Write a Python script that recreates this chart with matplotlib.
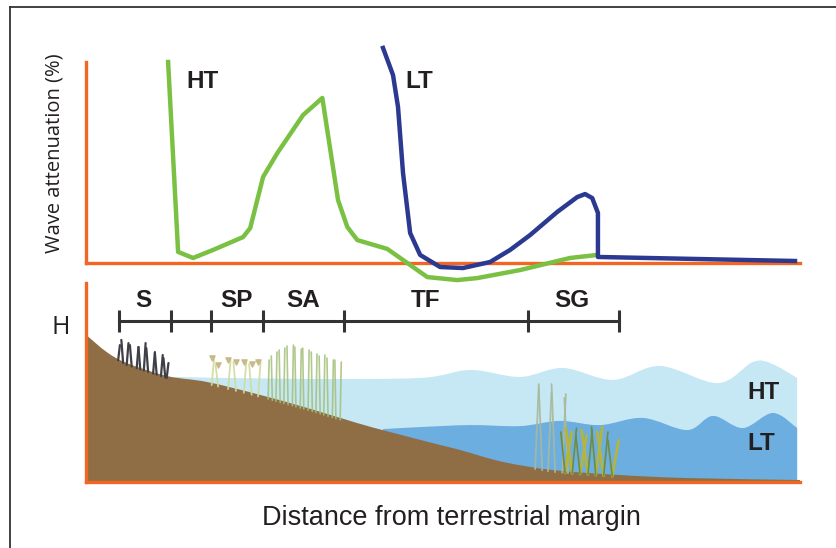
import numpy as np
import matplotlib
matplotlib.use("Agg")
import matplotlib.pyplot as plt
from matplotlib.lines import Line2D
from matplotlib.path import Path
from matplotlib.patches import PathPatch

# wave attenuation curves (distance 0-100, attenuation 0-100 %)
ht_dist = [11.5, 12.9, 15.0, 17.8, 22.0, 23.0, 24.8, 26.8, 30.4, 33.1, 35.3, 36.6,
           38.0, 42.2, 45.0, 47.8, 52.0, 54.8, 60.8, 67.8, 71.6]
ht_att = [100, 5.5, 2.5, 6.5, 12.9, 17.4, 42.8, 54.7, 73.6, 82.1, 31.3, 17.9,
          11.4, 7.0, 0.0, -7.0, -8.5, -7.5, -3.5, 2.5, 4.0]
lt_dist = [41.6, 43.0, 43.7, 44.4, 45.4, 46.8, 49.6, 52.8, 56.6, 59.4, 62.2, 66.0,
           68.8, 69.9, 70.9, 71.7, 71.7, 99.3]
lt_att = [107, 93.5, 77.6, 44.8, 14.9, 4.0, -2.0, -2.5, 0.5, 6.5, 13.9, 25.4,
          32.8, 34.3, 32.3, 24.9, 3.0, 1.0]

# shore profile (height 0-100)
ground_d = [0, 2.9, 5.7, 11.3, 16.9, 23.4, 31.0, 38.0, 42.6, 49.6, 52.4, 58.4,
            65.4, 74.8, 84.2, 100]
ground_h = [74, 65.3, 59.8, 53.3, 50.3, 44.7, 37.2, 29.6, 25.1, 18.6, 16.1, 10.1,
            6.0, 3.5, 2.0, 1.0]
# water surface: crests and troughs
high_d = [12.5, 30.0, 46.8, 53.8, 60.8, 66.8, 73.8, 80.4, 88.5, 93.4, 96.0, 99.6]
high_h = [52.8, 51.8, 52.3, 56.3, 52.8, 57.3, 51.3, 58.3, 49.7, 60.3, 59.5, 52.3]
low_d = [41.6, 46.8, 53.8, 60.8, 66.4, 72.0, 78.0, 84.2, 87.8, 92.0, 96.2, 99.6]
low_h = [26.6, 27.6, 28.6, 28.1, 30.7, 28.6, 32.2, 26.1, 33.2, 27.1, 34.7, 27.1]

# vegetation zones
zone_ticks = [4.6, 11.9, 17.5, 24.8, 36.1, 61.9, 74.6]
zone_names = ["S", "SP", "SA", "TF", "SG"]
zone_label_d = [8.0, 21.1, 30.4, 47.5, 68.1]

s_d = [4.5, 5.2, 5.7, 6.4, 7.1, 7.6, 8.1, 8.7, 9.4, 9.9, 10.5, 11.1, 11.3]
s_top = [68.8, 71.4, 69.8, 68.8, 67.8, 67.8, 69.8, 67.3, 65.3, 64.8, 63.8, 62.3, 59.8]
sp_d = [17.6, 18.5, 19.9, 21.0, 22.1, 23.2, 24.1]
sp_top = [62.3, 58.8, 61.3, 60.3, 60.3, 59.3, 60.3]
sa_d = [25.5, 26.1, 26.6, 27.2, 27.7, 28.3, 28.9, 29.4, 30.0, 30.5, 31.1, 31.7,
        32.2, 32.8, 33.3, 33.9, 34.5, 35.0, 35.6]
sa_top = [61.3, 63.3, 65.3, 66.3, 67.3, 68.3, 68.8, 67.8, 66.8, 67.3, 66.3, 65.3,
          64.3, 63.3, 63.8, 62.3, 61.3, 61.3, 60.3]
sg_d = [62.9, 63.9, 64.7, 65.7, 66.7, 67.5]
sg_top = [47.2, 49.2, 45.2, 49.2, 44.2, 42.2]
kelp_d = [67.1, 68.1, 69.2, 70.3, 71.4, 72.5, 73.7]
kelp_top = [25.1, 27.1, 23.6, 26.1, 27.6, 25.1, 21.1]

ink = "#231f20"
orange = "#f26522"
W, H = 836, 548


def px_box(l, t, r, b):
    return [l / W, 1 - b / H, (r - l) / W, (b - t) / H]


def smooth_fill(ax, d, h, color, z):
    # cubic curves passing through every read point (catmull-rom style)
    p = np.column_stack([d, h]).astype(float)
    n = len(p)
    verts = [(d[0], 0), tuple(p[0])]
    codes = [Path.MOVETO, Path.LINETO]
    for i in range(n - 1):
        a = p[max(i - 1, 0)]
        b = p[min(i + 2, n - 1)]
        c1 = p[i] + (p[i + 1] - a) / 6
        c2 = p[i + 1] - (b - p[i]) / 6
        verts += [tuple(c1), tuple(c2), tuple(p[i + 1])]
        codes += [Path.CURVE4] * 3
    verts += [(d[-1], 0), (d[0], 0)]
    codes += [Path.LINETO, Path.CLOSEPOLY]
    ax.add_patch(PathPatch(Path(verts, codes), facecolor=color, lw=0, zorder=z))


fig = plt.figure(figsize=(8.36, 5.48), dpi=100)
ax_top = fig.add_axes(px_box(86, 62, 800, 263))
ax_bot = fig.add_axes(px_box(86, 283, 800, 482))

for ax in (ax_top, ax_bot):
    ax.set_xlim(0, 100)
    ax.set_ylim(0, 100)
    ax.set_xticks([])
    ax.set_yticks([])
    ax.set_facecolor("none")
    for side in ("top", "right"):
        ax.spines[side].set_visible(False)
    for side in ("left", "bottom"):
        ax.spines[side].set_color(orange)
        ax.spines[side].set_linewidth(2.4)
        ax.spines[side].set_zorder(10)

# top panel
ax_top.plot(ht_dist, ht_att, color="#7ac143", lw=3.2, clip_on=False,
            solid_joinstyle="round", zorder=11)
ax_top.plot(lt_dist, lt_att, color="#2b3990", lw=3.2, clip_on=False,
            solid_joinstyle="round", zorder=12)
ax_top.text(14.0, 90.5, "HT", ha="left", va="center", fontsize=17.5,
            fontweight="bold", family="Liberation Sans", color=ink)
ax_top.text(44.8, 90.5, "LT", ha="left", va="center", fontsize=17.5,
            fontweight="bold", family="Liberation Sans", color=ink)

# bottom panel: water, shore and plants
smooth_fill(ax_bot, high_d, high_h, "#c6e7f4", 1)
smooth_fill(ax_bot, low_d, low_h, "#6caee0", 2)
smooth_fill(ax_bot, ground_d, ground_h, "#8f6e46", 3)


def plants(d, top, color, lw, lean, alpha=1.0):
    d = np.array(d)
    base = np.interp(d, ground_d, ground_h) - 1.0
    for i in range(len(d)):
        ax_bot.plot([d[i], d[i] + lean * (-1) ** i], [base[i], top[i]],
                    color=color, lw=lw, alpha=alpha, solid_capstyle="round",
                    zorder=4)


plants(s_d, s_top, "#3f3f48", 1.6, 0.25)
plants(sp_d, sp_top, "#cfdc9c", 1.3, 0.35, 0.9)
ax_bot.scatter(sp_d, sp_top, s=14, marker="v", color="#c9b98a", zorder=5)
plants(sa_d, sa_top, "#a4c07a", 1.2, 0.15, 0.85)
plants(sg_d, sg_top, "#a9b89c", 1.3, 0.5, 0.9)
plants(kelp_d, kelp_top, "#b5b43f", 2.0, 0.9)
plants(kelp_d, kelp_top, "#6f8d3c", 1.2, -0.6)

ax_bot.plot([zone_ticks[0], zone_ticks[-1]], [80.9, 80.9], color="#333333",
            lw=2.2, zorder=6)
ax_bot.vlines(zone_ticks, 75.4, 86.4, color="#333333", lw=2.2, zorder=6)
for name, d in zip(zone_names, zone_label_d):
    ax_bot.text(d, 91.0, name, ha="center", va="center", fontsize=17.5,
                fontweight="bold", family="Liberation Sans", color=ink)
ax_bot.text(92.6, 45.2, "HT", ha="left", va="center", fontsize=17.5,
            fontweight="bold", family="Liberation Sans", color=ink, zorder=7)
ax_bot.text(92.6, 19.1, "LT", ha="left", va="center", fontsize=17.5,
            fontweight="bold", family="Liberation Sans", color=ink, zorder=7)

# labels and frame
fig.text(55 / W, 1 - 153 / H, "Wave attenuation (%)", rotation=90, ha="center",
         va="center", fontsize=14.5, family="Open Sans", color=ink)
fig.text(61 / W, 1 - 328 / H, "H", ha="center", va="center", fontsize=18,
         family="Open Sans", color=ink)
fig.text(451 / W, 1 - 518 / H, "Distance from terrestrial margin", ha="center",
         va="center", fontsize=19.5, family="Liberation Sans", color=ink)
fig.add_artist(Line2D([10 / W, 10 / W], [0, 1 - 7 / H], color="#333333", lw=1.3))
fig.add_artist(Line2D([10 / W, 1], [1 - 7 / H, 1 - 7 / H], color="#333333", lw=1.3))

fig.savefig("out.png", dpi=100)
